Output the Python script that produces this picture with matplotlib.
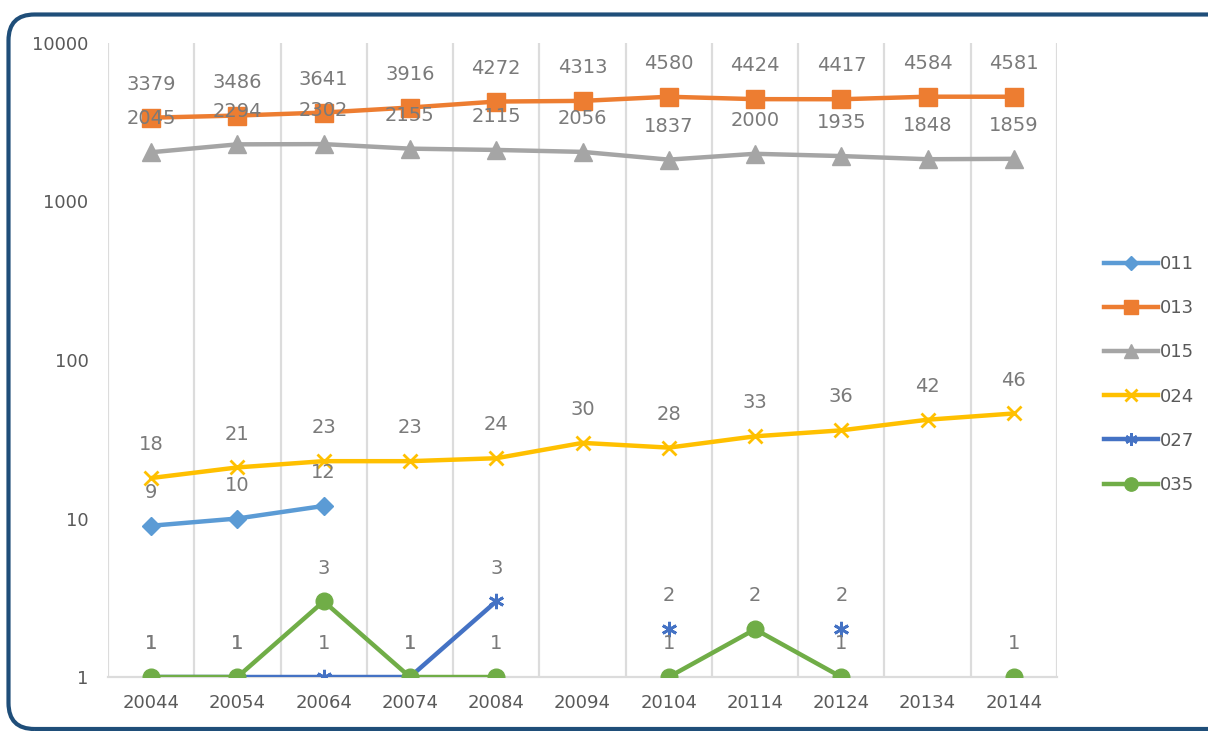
import numpy as np
import matplotlib.pyplot as plt
from matplotlib.patches import FancyBboxPatch
from matplotlib.transforms import IdentityTransform

categories = ["20044", "20054", "20064", "20074", "20084", "20094",
              "20104", "20114", "20124", "20134", "20144"]

s011 = [9, 10, 12, None, None, None, None, None, None, None, None]
s013 = [3379, 3486, 3641, 3916, 4272, 4313, 4580, 4424, 4417, 4584, 4581]
s015 = [2045, 2294, 2302, 2155, 2115, 2056, 1837, 2000, 1935, 1848, 1859]
s024 = [18, 21, 23, 23, 24, 30, 28, 33, 36, 42, 46]
s027 = [1, 1, 1, 1, 3, None, 2, None, 2, None, None]
s035 = [1, 1, 3, 1, 1, None, 1, 2, 1, None, 1]

series = [
    ("011", s011, "#5B9BD5", "D", 9),
    ("013", s013, "#ED7D31", "s", 13),
    ("015", s015, "#A5A5A5", "^", 13),
    ("024", s024, "#FFC000", "x", 10),
    ("027", s027, "#4472C4", (6, 2, 0), 11),
    ("035", s035, "#70AD47", "o", 12),
]

label_color = "#7A7A7A"

fig = plt.figure(figsize=(12.08, 7.31), dpi=100)
ax = fig.add_axes([108 / 1208, 1 - 677 / 731, (1057 - 108) / 1208, (677 - 43) / 731])

x = np.arange(len(categories))
handles = []
for name, vals, color, marker, ms in series:
    y = np.array([np.nan if v is None else v for v in vals], dtype=float)
    thin = marker == "x" or isinstance(marker, tuple)
    ax.plot(x, y, color=color, lw=3.2, marker=marker, markersize=ms,
            markeredgewidth=2 if thin else 1,
            markeredgecolor=color, markerfacecolor=color,
            solid_capstyle="round", zorder=3)
    h, = ax.plot([], [], color=color, lw=3.2, marker=marker,
                 markersize=ms * 0.8, markeredgewidth=2 if thin else 1,
                 markeredgecolor=color, markerfacecolor=color, label=name)
    handles.append(h)
    for xi, v in zip(x, vals):
        if v is None:
            continue
        ax.annotate(str(v), (xi, v), xytext=(0, 24), textcoords="offset points",
                    ha="center", va="center", fontsize=14, color=label_color,
                    zorder=4)

ax.set_yscale("log")
ax.set_ylim(1, 10000)
ax.set_xlim(-0.5, len(categories) - 0.5)
ax.set_yticks([1, 10, 100, 1000, 10000])
ax.set_yticklabels(["1", "10", "100", "1000", "10000"])
ax.minorticks_off()
ax.set_xticks(x)
ax.set_xticklabels(categories)
ax.tick_params(axis="y", length=0, pad=14, labelsize=13, labelcolor="#595959")
ax.tick_params(axis="x", length=0, pad=12, labelsize=13, labelcolor="#595959")

# category separators like Excel
for b in np.arange(-0.5, len(categories), 1.0):
    ax.axvline(b, color="#DCDCDC", lw=1.6, zorder=1)

for side in ["top", "right", "left"]:
    ax.spines[side].set_visible(False)
ax.spines["bottom"].set_color("#DCDCDC")
ax.spines["bottom"].set_linewidth(1.6)

fig.legend(handles=handles, loc="center left",
           bbox_to_anchor=(1088 / 1208, 1 - 374.5 / 731),
           frameon=False, fontsize=13, handlelength=3.0, labelspacing=1.45,
           handletextpad=0.1, labelcolor="#595959")

# rounded frame, mostly running off the right edge
border = FancyBboxPatch((8.5, 2), 1228, 716.5 - 2,
                        boxstyle="round,pad=0,rounding_size=26",
                        transform=IdentityTransform(), fill=False,
                        edgecolor="#1F4E79", linewidth=3.0)
fig.add_artist(border)

fig.savefig("out.png", dpi=100)
